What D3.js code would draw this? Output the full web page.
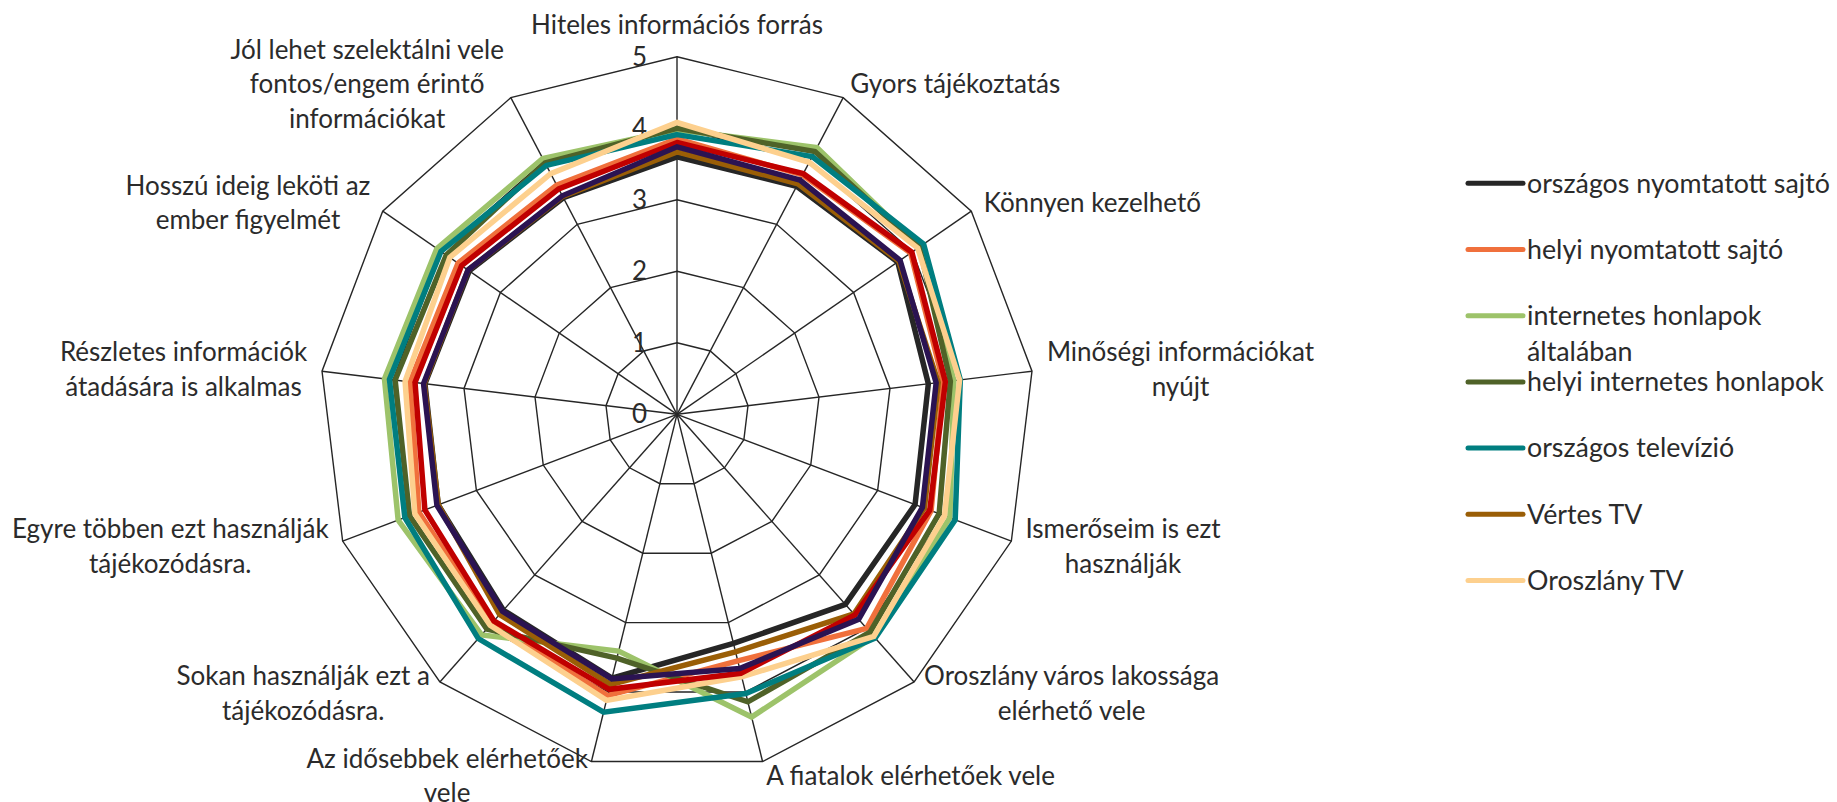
<!DOCTYPE html>
<html>
<head>
<meta charset="utf-8">
<script src="https://cdn.jsdelivr.net/npm/d3@7/dist/d3.min.js"></script>
<style>
body { margin: 0; background: #fff; }
svg { display: block; }
text { font-family: Lato, "Open Sans", sans-serif; fill: #2b2b2b; }
</style>
</head>
<body>
<svg id="chart" width="1837" height="802"></svg>
<script>
'use strict';
/*
 *	Data
 */
// axis labels, already broken into lines the way the chart wraps them
var categories = [
	["Hiteles információs forrás"],
	["Gyors tájékoztatás"],
	["Könnyen kezelhető"],
	["Minőségi információkat", "nyújt"],
	["Ismerőseim is ezt", "használják"],
	["Oroszlány város lakossága", "elérhető vele"],
	["A fiatalok elérhetőek vele"],
	["Az idősebbek elérhetőek", "vele"],
	["Sokan használják ezt a", "tájékozódásra."],
	["Egyre többen ezt használják", "tájékozódásra."],
	["Részletes információk", "átadására is alkalmas"],
	["Hosszú ideig leköti az", "ember figyelmét"],
	["Jól lehet szelektálni vele", "fontos/engem érintő", "információkat"]
];
var ticks = [0, 1, 2, 3, 4, 5];

// last two series have no visible legend entry (legend is cut off)
var seriesNames = [
	"országos nyomtatott sajtó",
	"helyi nyomtatott sajtó",
	["internetes honlapok", "általában"],
	"helyi internetes honlapok",
	"országos televízió",
	"Vértes TV",
	"Oroszlány TV",
	null,
	null
];
var seriesColors = ["#262626", "#F0703C", "#9DC36A", "#4F6228", "#007E80", "#9A5E06", "#FDD08E", "#C00000", "#2B1352"];

var orszNyomtatott = [3.60, 3.60, 3.75, 3.54, 3.56, 3.55, 3.30, 3.80, 3.66, 3.57, 3.55, 3.53, 3.42];
var helyiNyomtatott = [3.85, 3.78, 3.97, 3.75, 3.80, 4.00, 3.55, 4.05, 3.90, 3.86, 3.76, 3.72, 3.62];
var internetAlt = [3.98, 4.21, 4.12, 3.90, 4.08, 4.15, 4.36, 3.41, 4.12, 4.17, 4.12, 4.08, 4.04];
var helyiInternet = [4.00, 4.15, 4.12, 3.85, 3.92, 4.07, 4.14, 3.51, 4.01, 4.00, 3.97, 3.92, 3.97];
var orszTelevizio = [3.91, 4.07, 4.19, 3.99, 4.16, 4.18, 4.02, 4.29, 4.19, 4.07, 4.05, 4.01, 3.93];
var vertesTV = [3.67, 3.64, 3.77, 3.68, 3.70, 3.73, 3.42, 3.89, 3.74, 3.57, 3.56, 3.55, 3.44];
var oroszlanyTV = [4.08, 3.98, 4.09, 3.98, 4.00, 4.15, 3.78, 4.12, 3.94, 3.92, 3.83, 3.86, 3.80];
var sorozat8 = [3.80, 3.80, 3.99, 3.78, 3.78, 3.75, 3.73, 3.96, 3.86, 3.77, 3.69, 3.66, 3.56];
var sorozat9 = [3.74, 3.70, 3.79, 3.65, 3.67, 3.83, 3.66, 3.81, 3.68, 3.59, 3.57, 3.55, 3.45];

var allSeries = [orszNyomtatott, helyiNyomtatott, internetAlt, helyiInternet, orszTelevizio, vertesTV, oroszlanyTV, sorozat8, sorozat9];

/*
 *	Layout
 */
var cx = 677, cy = 414.3, R = 357.6;
var fontSize = 26, legendFont = 26.8, lineH = 34.5;
var n = categories.length;
var step = 2 * Math.PI / n;

var svg = d3.select('#chart');
var r = d3.scaleLinear().domain([0, 5]).range([0, R]);
var g = svg.append('g').attr('transform', 'translate(' + cx + ',' + cy + ')');

function px(a, rad) { return rad * Math.sin(a); }
function py(a, rad) { return -rad * Math.cos(a); }

// grid polygons
var gridLine = d3.lineRadial()
	.angle(function(d, i){ return i * step; })
	.radius(function(d){ return r(d); })
	.curve(d3.curveLinearClosed);

ticks.slice(1).forEach(function(t){
	g.append('path')
		.attr('d', gridLine(d3.range(n).map(function(){ return t; })))
		.attr('fill', 'none')
		.attr('stroke', '#262626')
		.attr('stroke-width', 1.4);
});
// spokes
g.selectAll('line.spoke').data(d3.range(n)).enter().append('line')
	.attr('class', 'spoke')
	.attr('x1', 0).attr('y1', 0)
	.attr('x2', function(i){ return px(i * step, r(5)); })
	.attr('y2', function(i){ return py(i * step, r(5)); })
	.attr('stroke', '#262626')
	.attr('stroke-width', 1.4);

// tick labels
g.selectAll('text.tick').data(ticks).enter().append('text')
	.attr('class', 'tick')
	.attr('x', -30)
	.attr('y', function(d){ return -r(d); })
	.attr('dy', '0.35em')
	.attr('text-anchor', 'end')
	.style('font-size', fontSize + 'px')
	.text(function(d){ return d; });

// series
var seriesLine = d3.lineRadial()
	.angle(function(d, i){ return i * step; })
	.radius(function(d){ return r(d); })
	.curve(d3.curveLinearClosed);

allSeries.forEach(function(vals, k){
	g.append('path')
		.attr('d', seriesLine(vals))
		.attr('fill', 'none')
		.attr('stroke', seriesColors[k])
		.attr('stroke-width', 5.5)
		.attr('stroke-linejoin', 'miter');
});

// axis labels
categories.forEach(function(lines, i){
	var a = i * step;
	var s = Math.sin(a);
	var ax = px(a, R + 15), ay = py(a, R + 15);
	var anchor = 'middle', midY = ay;
	if (Math.abs(s) < 0.01) {
		midY = ay - lines.length * lineH / 2;
	} else {
		anchor = s > 0 ? 'start' : 'end';
	}
	var t = g.append('text')
		.attr('text-anchor', anchor)
		.style('font-size', fontSize + 'px');
	lines.forEach(function(line, j){
		t.append('tspan')
			.attr('x', ax)
			.attr('y', midY + (j - (lines.length - 1) / 2) * lineH)
			.attr('dy', '0.35em')
			.text(line);
	});
	// multi-line labels are centred on their widest line
	if (anchor !== 'middle' && lines.length > 1) {
		var widths = [];
		t.selectAll('tspan').each(function(){ widths.push(this.getComputedTextLength()); });
		var blockW = d3.max(widths);
		t.attr('text-anchor', 'middle');
		t.selectAll('tspan').attr('x', s > 0 ? ax + blockW / 2 : ax - blockW / 2);
	}
});

/*
 *	Legend
 */
var legend = svg.append('g').attr('transform', 'translate(1468,183.3)');
seriesNames.forEach(function(name, k){
	if (!name) return;
	var y = k * 66.2;
	legend.append('line')
		.attr('x1', 0).attr('x2', 55)
		.attr('y1', y).attr('y2', y)
		.attr('stroke', seriesColors[k])
		.attr('stroke-width', 5)
		.attr('stroke-linecap', 'round');
	var lines = Array.isArray(name) ? name : [name];
	var t = legend.append('text').style('font-size', legendFont + 'px');
	lines.forEach(function(line, j){
		t.append('tspan')
			.attr('x', 59)
			.attr('y', y + j * 35.7)
			.attr('dy', '0.35em')
			.text(line);
	});
});
</script>
</body>
</html>
